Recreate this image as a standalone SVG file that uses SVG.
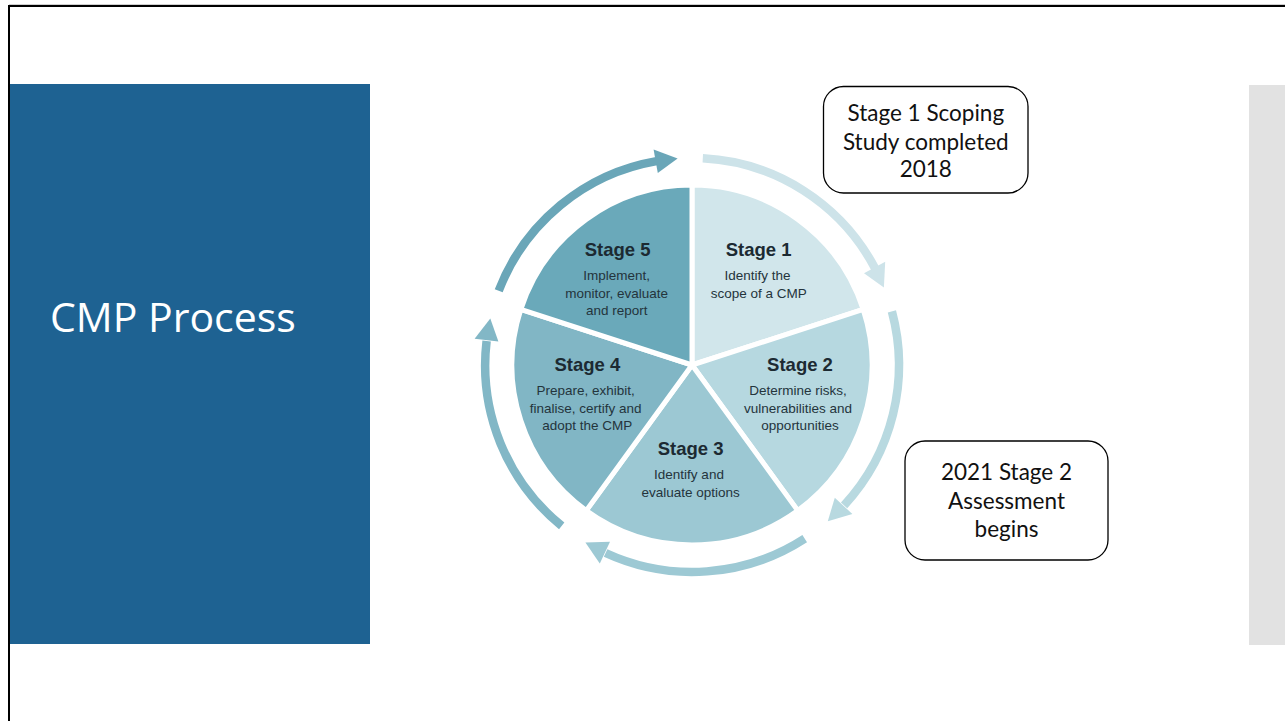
<svg xmlns="http://www.w3.org/2000/svg" width="1285" height="721" viewBox="0 0 1285 721">
<style>
.title{font-family:"Liberation Sans",Arial,sans-serif;font-weight:bold;font-size:18.5px;fill:#1c2a32;text-anchor:middle}
.desc{font-family:"Liberation Sans",Arial,sans-serif;font-size:13.5px;fill:#24343c;text-anchor:middle}
.slice{stroke:#ffffff;stroke-width:5;stroke-linejoin:round}
.arc{fill:none;stroke-width:8.5}
.call{fill:#ffffff;stroke:#000000;stroke-width:1.3}
.ctext{font-family:Lato,"Open Sans",sans-serif;font-size:22.5px;fill:#111111;text-anchor:middle}
</style>
<rect x="0" y="0" width="1285" height="721" fill="#ffffff"/>
<line x1="9" y1="4.5" x2="1285" y2="4.5" stroke="#cfcfcf" stroke-width="1"/>
<rect x="9" y="6" width="1300" height="800" fill="none" stroke="#000000" stroke-width="2"/>
<rect id="title-panel" x="10" y="84" width="360" height="560" fill="#1e6292"/>
<text x="50" y="331.5" font-family="'Open Sans',Lato,sans-serif" font-size="41" fill="#ffffff">CMP Process</text>
<rect id="side-panel" x="1249" y="85" width="40" height="560" fill="#e2e2e2"/>

<g id="node-stage1">
<path class="slice" d="M692 365 L692 185 A180 180 0 0 1 863.2 309.4 Z" fill="#d1e6eb"/>
<text class="title" x="758.7" y="255.6">Stage 1</text>
<text class="desc" x="757.5" y="280.2">Identify the</text>
<text class="desc" x="758.7" y="297.5">scope of a CMP</text>
</g>
<g id="node-stage2">
<path class="slice" d="M692 365 L863.2 309.4 A180 180 0 0 1 797.8 510.6 Z" fill="#b6d8e0"/>
<text class="title" x="800" y="370.6">Stage 2</text>
<text class="desc" x="798" y="395.2">Determine risks,</text>
<text class="desc" x="798" y="412.5">vulnerabilities and</text>
<text class="desc" x="800" y="429.8">opportunities</text>
</g>
<g id="node-stage3">
<path class="slice" d="M692 365 L797.8 510.6 A180 180 0 0 1 586.2 510.6 Z" fill="#9cc8d3"/>
<text class="title" x="690.7" y="454.9">Stage 3</text>
<text class="desc" x="689" y="479.2">Identify and</text>
<text class="desc" x="690.7" y="496.5">evaluate options</text>
</g>
<g id="node-stage4">
<path class="slice" d="M692 365 L586.2 510.6 A180 180 0 0 1 520.8 309.4 Z" fill="#81b6c5"/>
<text class="title" x="587.3" y="370.6">Stage 4</text>
<text class="desc" x="585.7" y="395.2">Prepare, exhibit,</text>
<text class="desc" x="585.7" y="412.5">finalise, certify and</text>
<text class="desc" x="587.3" y="429.8">adopt the CMP</text>
</g>
<g id="node-stage5">
<path class="slice" d="M692 365 L520.8 309.4 A180 180 0 0 1 692 185 Z" fill="#6aa9ba"/>
<text class="title" x="617.7" y="255.6">Stage 5</text>
<text class="desc" x="616.7" y="280.2">Implement,</text>
<text class="desc" x="616.7" y="297.5">monitor, evaluate</text>
<text class="desc" x="616.7" y="315.2">and report</text>
</g>

<g id="connectors">
<path class="arc" stroke="#6aa6b8" d="M498.7 290.8 A207 207 0 0 1 656.5 161.1"/>
<polygon fill="#6aa6b8" points="653.6,149.4 677.6,158.5 657.8,173.0"/>
<path class="arc" stroke="#cde3e9" d="M702.8 158.3 A207 207 0 0 1 875.0 268.2"/>
<polygon fill="#cde3e9" points="885.2,261.8 883.9,287.5 864.0,273.2"/>
<path class="arc" stroke="#b8d9e0" d="M891.9 311.4 A207 207 0 0 1 844.1 505.4"/>
<polygon fill="#b8d9e0" points="852.4,514.1 827.8,521.2 834.8,497.7"/>
<path class="arc" stroke="#9dc9d4" d="M804.7 538.6 A207 207 0 0 1 605.6 553.0"/>
<polygon fill="#9dc9d4" points="599.8,563.6 585.4,542.4 610.0,541.8"/>
<path class="arc" stroke="#82b7c6" d="M561.7 525.9 A207 207 0 0 1 486.6 340.9"/>
<polygon fill="#82b7c6" points="474.6,338.7 490.3,318.4 498.4,341.5"/>
</g>

<g id="callout-stage1">
<rect class="call" x="823.5" y="86.5" width="204.5" height="106.5" rx="20"/>
<text class="ctext" x="925.8" y="121">Stage 1 Scoping</text>
<text class="ctext" x="925.8" y="150">Study completed</text>
<text class="ctext" x="925.8" y="177">2018</text>
</g>
<g id="callout-stage2">
<rect class="call" x="905" y="441" width="203" height="119" rx="20"/>
<text class="ctext" x="1006.5" y="480">2021 Stage 2</text>
<text class="ctext" x="1006.5" y="508.5">Assessment</text>
<text class="ctext" x="1006.5" y="537">begins</text>
</g>
</svg>
